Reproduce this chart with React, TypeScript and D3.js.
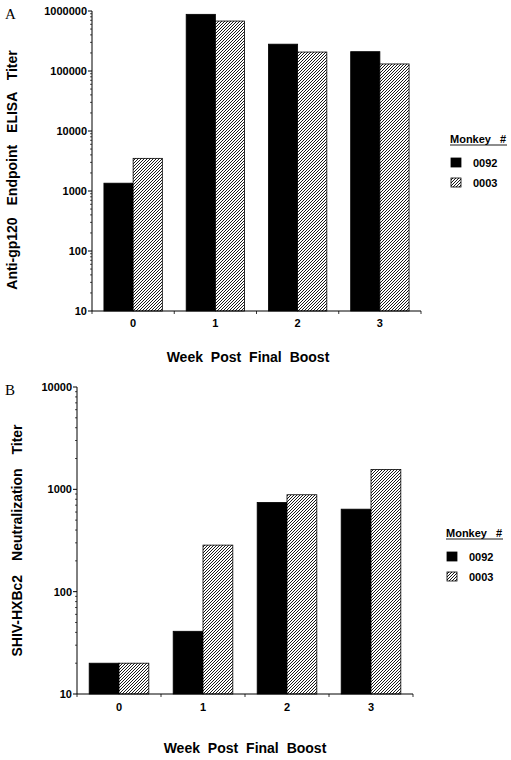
import React from "react";
import * as d3 from "d3";

const weeks = ["0", "1", "2", "3"];
const seriesNames = ["0092", "0003"];
const elisa0092 = [1350, 880000, 280000, 210000];
const elisa0003 = [3500, 680000, 207000, 131000];
const neut0092 = [20, 41, 745, 640];
const neut0003 = [20, 285, 885, 1560];
const elisaTicks = [10, 100, 1000, 10000, 100000, 1000000];
const neutTicks = [10, 100, 1000, 10000];

const FONT = "'Liberation Sans', Arial, Helvetica, sans-serif";

type PanelProps = {
  letter: string;
  letterY: number;
  x0: number;
  x1: number;
  yTop: number;
  yBot: number;
  domain: [number, number];
  ticks: number[];
  a: number[];
  b: number[];
  yTitle: string;
  yTitleX: number;
  yTitleWS: number;
  xTitleX: number;
  xTitleY: number;
  tickLabelY: number;
  legendX: number;
  legendY: number;
};

function Panel(p: PanelProps) {
  const y = d3.scaleLog().domain(p.domain).range([p.yBot, p.yTop]);
  const x = d3
    .scaleBand<string>()
    .domain(weeks)
    .range([p.x0, p.x1])
    .paddingInner(0.29)
    .paddingOuter(0.145);
  const xs = d3.scaleBand<string>().domain(seriesNames).range([0, x.bandwidth()]);
  const step = x.step();
  const minor: number[] = [];
  for (let dec = p.domain[0]; dec < p.domain[1]; dec *= 10) {
    for (let m = 2; m <= 9; m++) minor.push(dec * m);
  }
  const boundaries = d3.range(weeks.length + 1).map((i) => p.x0 + i * step);
  const series = [p.a, p.b];
  const yMid = (p.yTop + p.yBot) / 2;
  return (
    <g>
      <text x={5} y={p.letterY} fontFamily="'Liberation Serif', 'Times New Roman', serif" fontSize={15}>
        {p.letter}
      </text>
      {/* bars */}
      {weeks.map((w, i) =>
        series.map((s, j) => {
          const top = y(s[i]);
          return (
            <rect
              key={w + j}
              x={(x(w) as number) + (xs(seriesNames[j]) as number)}
              y={top}
              width={xs.bandwidth()}
              height={p.yBot - top}
              fill={j === 0 ? "#000" : "url(#hatch)"}
              stroke="#000"
              strokeWidth={0.8}
            />
          );
        })
      )}
      {/* y axis */}
      <line x1={p.x0} x2={p.x0} y1={p.yTop} y2={p.yBot} stroke="#000" strokeWidth={1} />
      {minor.map((v) => (
        <line key={"m" + v} x1={p.x0 - 2} x2={p.x0} y1={y(v)} y2={y(v)} stroke="#000" strokeWidth={0.7} />
      ))}
      {p.ticks.map((v) => (
        <g key={"t" + v}>
          <line x1={p.x0 - 4} x2={p.x0} y1={y(v)} y2={y(v)} stroke="#000" strokeWidth={1} />
          <text
            x={p.x0 - 5}
            y={y(v) + 4}
            textAnchor="end"
            fontFamily={FONT}
            fontWeight="bold"
            fontSize={11}
          >
            {String(v)}
          </text>
        </g>
      ))}
      {/* x axis */}
      <line x1={p.x0} x2={p.x1} y1={p.yBot} y2={p.yBot} stroke="#000" strokeWidth={1} />
      {boundaries.map((bx, i) => (
        <line key={"b" + i} x1={bx} x2={bx} y1={p.yBot} y2={p.yBot + 3} stroke="#000" strokeWidth={0.8} />
      ))}
      {weeks.map((w) => (
        <text
          key={"xl" + w}
          x={(x(w) as number) + x.bandwidth() / 2}
          y={p.tickLabelY}
          textAnchor="middle"
          fontFamily={FONT}
          fontWeight="bold"
          fontSize={11}
        >
          {w}
        </text>
      ))}
      <text
        x={p.xTitleX}
        y={p.xTitleY}
        textAnchor="middle"
        fontFamily={FONT}
        fontWeight="bold"
        fontSize={14}
        style={{ wordSpacing: "4px" }}
      >
        Week Post Final Boost
      </text>
      <text
        transform={`translate(${p.yTitleX},${yMid + (p.letter === "A" ? 9 : 0)}) rotate(-90)`}
        textAnchor="middle"
        fontFamily={FONT}
        fontWeight="bold"
        fontSize={14}
        style={{ wordSpacing: p.yTitleWS + "px" }}
      >
        {p.yTitle}
      </text>
      {/* legend */}
      <g transform={`translate(${p.legendX},${p.legendY})`}>
        <text x={0} y={0} fontFamily={FONT} fontWeight="bold" fontSize={11} style={{ wordSpacing: "6px" }}>
          Monkey #
        </text>
        <line x1={0} x2={57} y1={2} y2={2} stroke="#000" strokeWidth={0.9} />
        {seriesNames.map((n, j) => (
          <g key={"lg" + n} transform={`translate(0,${15 + j * 20})`}>
            <rect
              x={1}
              y={0}
              width={10}
              height={9}
              fill={j === 0 ? "#000" : "url(#hatch)"}
              stroke="#000"
              strokeWidth={0.8}
            />
            <text x={23} y={8.5} fontFamily={FONT} fontWeight="bold" fontSize={11}>
              {n}
            </text>
          </g>
        ))}
      </g>
    </g>
  );
}

export default function App() {
  return (
    <svg width={511} height={760} style={{ display: "block", position: "absolute", left: 0, top: 0 }}>
      <defs>
        <pattern id="hatch" patternUnits="userSpaceOnUse" width={3} height={3}>
          <rect width={3} height={3} fill="#fff" />
          <path d="M-1,1 L1,-1 M0,3 L3,0 M2,4 L4,2" stroke="#000" strokeWidth={0.9} />
        </pattern>
      </defs>
      <rect width={511} height={760} fill="#fff" />
      <Panel
        letter="A"
        letterY={19}
        x0={92}
        x1={421}
        yTop={11}
        yBot={311}
        domain={[10, 1000000]}
        ticks={elisaTicks}
        a={elisa0092}
        b={elisa0003}
        yTitle="Anti-gp120 Endpoint ELISA Titer"
        yTitleX={17}
        yTitleWS={8}
        xTitleX={248}
        xTitleY={362}
        tickLabelY={327}
        legendX={450}
        legendY={143}
      />
      <Panel
        letter="B"
        letterY={395}
        x0={77}
        x1={413}
        yTop={387}
        yBot={694}
        domain={[10, 10000]}
        ticks={neutTicks}
        a={neut0092}
        b={neut0003}
        yTitle="SHIV-HXBc2 Neutralization Titer"
        yTitleX={22}
        yTitleWS={10}
        xTitleX={245}
        xTitleY={753}
        tickLabelY={711}
        legendX={446}
        legendY={537}
      />
    </svg>
  );
}
